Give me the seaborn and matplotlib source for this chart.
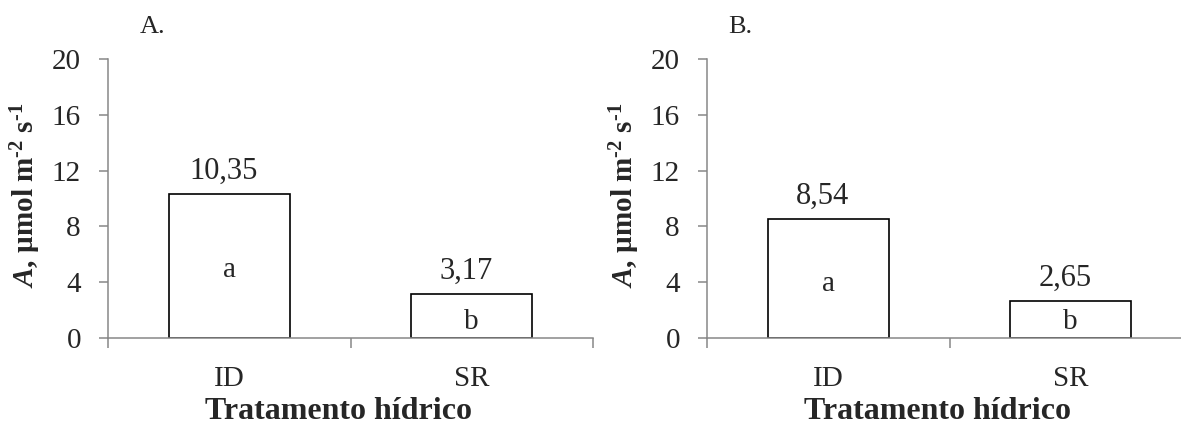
import matplotlib
matplotlib.use("Agg")
import matplotlib.pyplot as plt
import seaborn as sns
import numpy as np

# ---- data ----
categories = ["ID", "SR"]
values_A = [10.35, 3.17]
values_B = [8.54, 2.65]
letters_A = ["a", "b"]
letters_B = ["a", "b"]
panel_titles = ["A.", "B."]
yticks = [0, 4, 8, 12, 16, 20]

# ---- style ----
sns.set_theme(style="white")
plt.rcParams["font.family"] = ["Liberation Serif", "DejaVu Serif"]
plt.rcParams["mathtext.fontset"] = "custom"
plt.rcParams["mathtext.rm"] = "Liberation Serif"
plt.rcParams["mathtext.it"] = "Liberation Serif:italic"
plt.rcParams["mathtext.bf"] = "Liberation Serif:bold"
plt.rcParams["mathtext.bfit"] = "Liberation Serif:bold:italic"

W, H = 1181, 426
fig = plt.figure(figsize=(W / 100, H / 100), dpi=100)

gray = "#878787"
FS = 21

def px(x, y, w, h):
    return [x / W, 1 - (y + h) / H, w / W, h / H]

axA = fig.add_axes(px(108, 59, 485, 279))
axB = fig.add_axes(px(707, 59, 485, 279))

ylabel = "$\\mathbfit{A}$, µmol m$^{\\mathbf{\u20102}}$ s$^{\\mathbf{\u20101}}$"

# letter positions (layout, in data units)
letter_pos = {"A": [4.9, 1.15], "B": [3.9, 1.15]}

panels = [(axA, values_A, letters_A, "A", 140), (axB, values_B, letters_B, "B", 728)]
for (ax, vals, lets, key, tx), title in zip(panels, panel_titles):
    sns.barplot(x=categories, y=vals, color="white", edgecolor="black",
                linewidth=1.2, width=0.5, saturation=1, ax=ax, zorder=1)
    ax.set_ylim(0, 20)
    ax.set_xlim(-0.5, 1.5)
    ax.set_yticks(yticks)
    ax.set_yticklabels([str(t) for t in yticks])
    for s in ["top", "right"]:
        ax.spines[s].set_visible(False)
    for s in ["left", "bottom"]:
        ax.spines[s].set_color(gray)
        ax.spines[s].set_linewidth(1.1)
    ax.tick_params(axis="y", which="major", direction="out", length=6.5, width=1.1,
                   color=gray, labelsize=FS, pad=13, left=True)
    ax.tick_params(axis="x", which="major", length=0, labelsize=FS, pad=20, bottom=True)
    ax.set_xticks([-0.5, 0.5, 1.5], minor=True)
    ax.tick_params(axis="x", which="minor", direction="out", length=7.5, width=1.1,
                   color=gray, bottom=True)
    ax.set_ylabel(ylabel, fontsize=FS, fontweight="bold")
    ax.yaxis.set_label_coords(-0.135, 0.512)
    ax.set_xlabel("Tratamento hídrico", fontsize=23, fontweight="bold")
    ax.xaxis.set_label_coords(0.476, -0.212)
    ax.grid(False)
    for i, v in enumerate(vals):
        ax.annotate(f"{v:.2f}".replace(".", ","), (i, v), xytext=(-4, 16),
                    textcoords="offset points", ha="center", va="center", fontsize=22)
        ax.text(i, letter_pos[key][i], lets[i], ha="center", va="center", fontsize=FS)
    fig.text(tx / W, 1 - 27 / H, title, ha="left", va="center", fontsize=19)

fig.savefig("out.png", dpi=100)
